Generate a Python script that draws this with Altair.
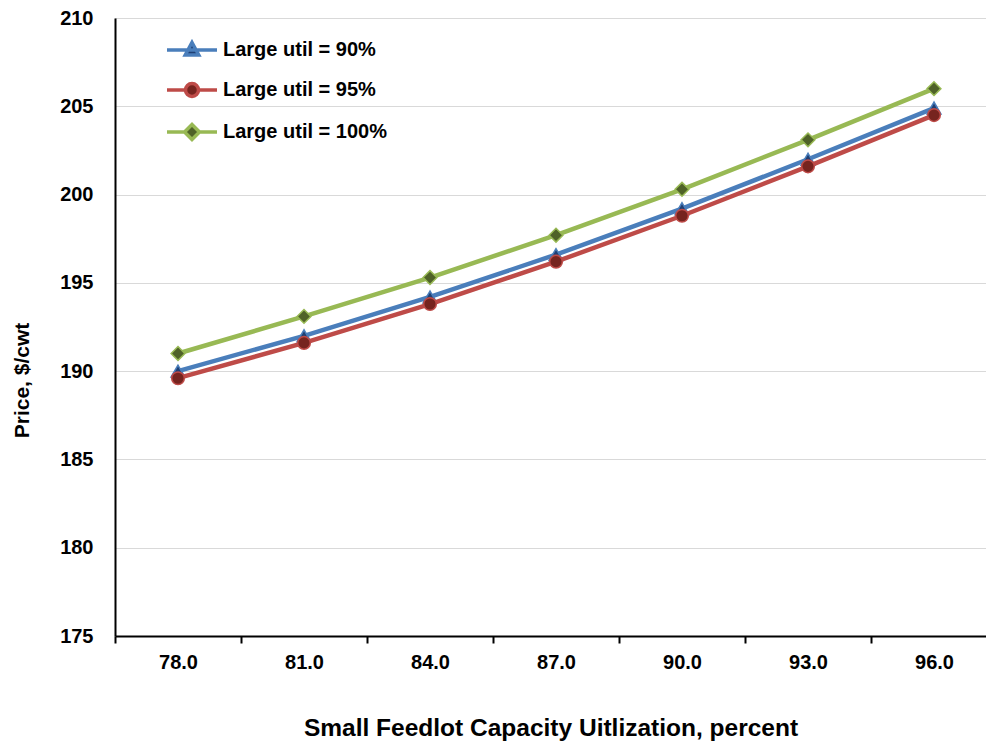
import altair as alt
import pandas as pd

# ---- data ----
x_vals = [78.0, 81.0, 84.0, 87.0, 90.0, 93.0, 96.0]
series_names = ["Large util = 90%", "Large util = 95%", "Large util = 100%"]
util_90 = [190.0, 192.0, 194.2, 196.6, 199.2, 202.0, 204.9]
util_95 = [189.6, 191.6, 193.8, 196.2, 198.8, 201.6, 204.5]
util_100 = [191.0, 193.1, 195.3, 197.7, 200.3, 203.1, 206.0]
y_ticks = [175, 180, 185, 190, 195, 200, 205, 210]

# ---- styles ----
line_colors = ["#4a7ebb", "#be4b48", "#98b954"]
marker_fills = ["#1f3f73", "#76241f", "#4f6228"]
marker_shapes = ["triangle-up", "circle", "diamond"]
legend_paths = [
    "M-1,0H1M0,-0.3L0.27,0.2L-0.27,0.2Z",
    "M-0.26,0A0.26,0.26 0 1,0 0.26,0A0.26,0.26 0 1,0 -0.26,0Z M-1,0H-0.26M0.26,0H1",
    "M-1,0H-0.3M0.3,0H1M0,-0.3L0.3,0L0,0.3L-0.3,0Z",
]
FONT = "Liberation Sans"

rows = []
for name, vals in zip(series_names, [util_90, util_95, util_100]):
    for xv, yv in zip(x_vals, vals):
        rows.append({"x": xv, "y": yv, "series": name})
df = pd.DataFrame(rows)

step = x_vals[1] - x_vals[0]
x_lo = x_vals[0] - step / 2
x_hi = x_lo + 871 / 42.0
boundaries = [x_lo + step * i for i in range(7)]
axis_values = sorted(boundaries + x_vals)

x_enc = alt.X(
    "x:Q",
    scale=alt.Scale(domain=[x_lo, x_hi], nice=False, zero=False),
    axis=alt.Axis(
        values=axis_values,
        labelExpr="datum.value % 3 == 0 ? format(datum.value, '.1f') : ''",
        tickOpacity={"condition": {"test": "datum.value % 3 == 0", "value": 0}, "value": 1},
        labelOverlap=False,
        labelFlush=False,
        grid=False,
        domainColor="black",
        domainWidth=2,
        tickColor="black",
        tickWidth=2,
        tickSize=7,
        labelPadding=9,
        labelFont=FONT,
        labelFontSize=20,
        labelFontWeight="bold",
        labelColor="black",
        title="Small Feedlot Capacity Uitlization, percent",
        titleFont=FONT,
        titleFontSize=24.5,
        titleFontWeight="bold",
        titleColor="black",
        titlePadding=44,
    ),
)
y_enc = alt.Y(
    "y:Q",
    scale=alt.Scale(domain=[y_ticks[0], y_ticks[-1]], nice=False, zero=False),
    axis=alt.Axis(
        values=y_ticks,
        format="d",
        ticks=False,
        grid=True,
        gridColor="#d9d9d9",
        gridWidth=1,
        domainColor="black",
        domainWidth=2,
        labelPadding=22,
        labelFont=FONT,
        labelFontSize=20,
        labelFontWeight="bold",
        labelColor="black",
        title="Price, $/cwt",
        titleFont=FONT,
        titleFontSize=21,
        titleFontWeight="bold",
        titleColor="black",
        titleX=-83,
        titleY=362,
    ),
)

base = alt.Chart(df)
layers = []
for i, name in enumerate(series_names):
    sub = base.transform_filter(alt.datum.series == name)
    layers.append(
        sub.mark_line(color=line_colors[i], strokeWidth=4.5).encode(x=x_enc, y=y_enc)
    )
    layers.append(
        sub.mark_point(
            shape=marker_shapes[i],
            filled=True,
            fill=marker_fills[i],
            stroke=line_colors[i],
            strokeWidth=1.5,
            opacity=1,
            size=190 if marker_shapes[i] != "circle" else 160,
        ).encode(x=x_enc, y=y_enc)
    )

legend_def = alt.Legend(
    title=None,
    orient="none",
    legendX=50,
    legendY=5,
    symbolSize=2500,
    symbolStrokeWidth=3.5,
    labelFont=FONT,
    labelFontSize=20,
    labelFontWeight="bold",
    labelColor="black",
    labelOffset=4,
    labelLimit=400,
    rowPadding=1,
)
legend_layer = base.transform_filter("false").mark_point(filled=True, opacity=1).encode(
    x=x_enc,
    y=y_enc,
    shape=alt.Shape("series:N", scale=alt.Scale(domain=series_names, range=legend_paths), legend=legend_def),
    fill=alt.Fill("series:N", scale=alt.Scale(domain=series_names, range=marker_fills), legend=legend_def),
    stroke=alt.Stroke("series:N", scale=alt.Scale(domain=series_names, range=line_colors), legend=legend_def),
)

chart = (
    alt.layer(*layers, legend_layer)
    .properties(
        width=871,
        height=618,
        autosize=alt.AutoSizeParams(type="none"),
        padding={"left": 115, "top": 18, "right": 0, "bottom": 110},
    )
    .configure_view(stroke=None)
    .configure(background="white")
)

chart.save("out.html", embed_options={"renderer": "svg", "actions": False})
